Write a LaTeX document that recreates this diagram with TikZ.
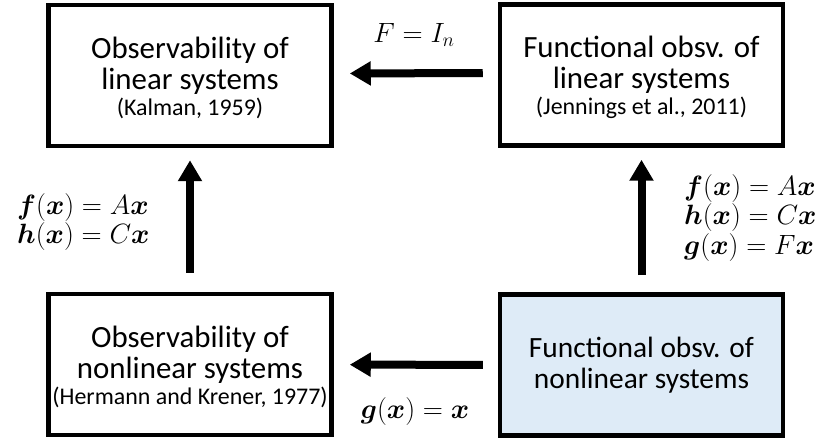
\RequirePackage{fix-cm}
\documentclass[tikz,border=0pt]{standalone}
\usepackage{amsmath}
\usepackage{bm}
\usepackage{fontspec}
\setmainfont{Carlito}
\usetikzlibrary{arrows.meta}
\definecolor{boxblue}{HTML}{DEEBF7}
\newcommand{\refsize}{\fontsize{24}{23}\selectfont}
\newcommand{\toppad}{\rule{0pt}{26bp}}

\begin{document}
\begin{tikzpicture}[x=1bp, y=-1bp, every node/.style={inner sep=0pt},
  box/.style={draw, line width=4.5bp, minimum width=283bp, minimum height=141bp, align=center, font=\fontsize{31}{31}\selectfont},
  bigarrow/.style={line width=8bp, -{Triangle[length=21bp, width=23bp]}},
  lbl/.style={align=left, font=\fontsize{28}{30}\selectfont}]
\useasboundingbox (0,0) rectangle (830,439);
% Boxes
\node[box] (obslin) at (190,75.5) {\toppad Observability of\\linear systems\\[-5bp]{\refsize (Kalman, 1959)}};
\node[box] (fobslin) at (641.5,75) {\toppad Functional obsv. of\\linear systems\\[-5bp]{\refsize (Jennings et al., 2011)}};
\node[box] (obsnl) at (190,364.5) {\toppad Observability of\\nonlinear systems\\[-5bp]{\refsize (Hermann and Krener, 1977)}};
\node[box, fill=boxblue, font=\fontsize{29.5}{31}\selectfont] (fobsnl) at (641.5,365) {Functional obsv. of\\nonlinear systems};
% Arrows
\draw[bigarrow, shorten <=15bp, shorten >=16bp] ([yshift=2bp]fobslin.west) -- ([yshift=2bp]obslin.east);
\draw[bigarrow, shorten <=15bp, shorten >=16bp] (fobsnl) -- (obsnl);
\draw[bigarrow, shorten <=19bp, shorten >=12bp] (obsnl) -- (obslin);
\draw[bigarrow, shorten <=17bp, shorten >=12bp] (fobsnl) -- (fobslin);
% Labels
\node[lbl] (fin) at (414,35) {$F = I_n$};
\node[lbl] (gnl) at (415,412) {$\bm{g}(\bm{x}) = \bm{x}$};
\node[lbl, anchor=west] (linl) at (17,222) {$\bm{f}(\bm{x}) = A\bm{x}$\\$\bm{h}(\bm{x}) = C\bm{x}$};
\node[lbl, anchor=west] (linr) at (684,218) {$\bm{f}(\bm{x}) = A\bm{x}$\\$\bm{h}(\bm{x}) = C\bm{x}$\\$\bm{g}(\bm{x}) = F\bm{x}$};
\end{tikzpicture}
\end{document}
